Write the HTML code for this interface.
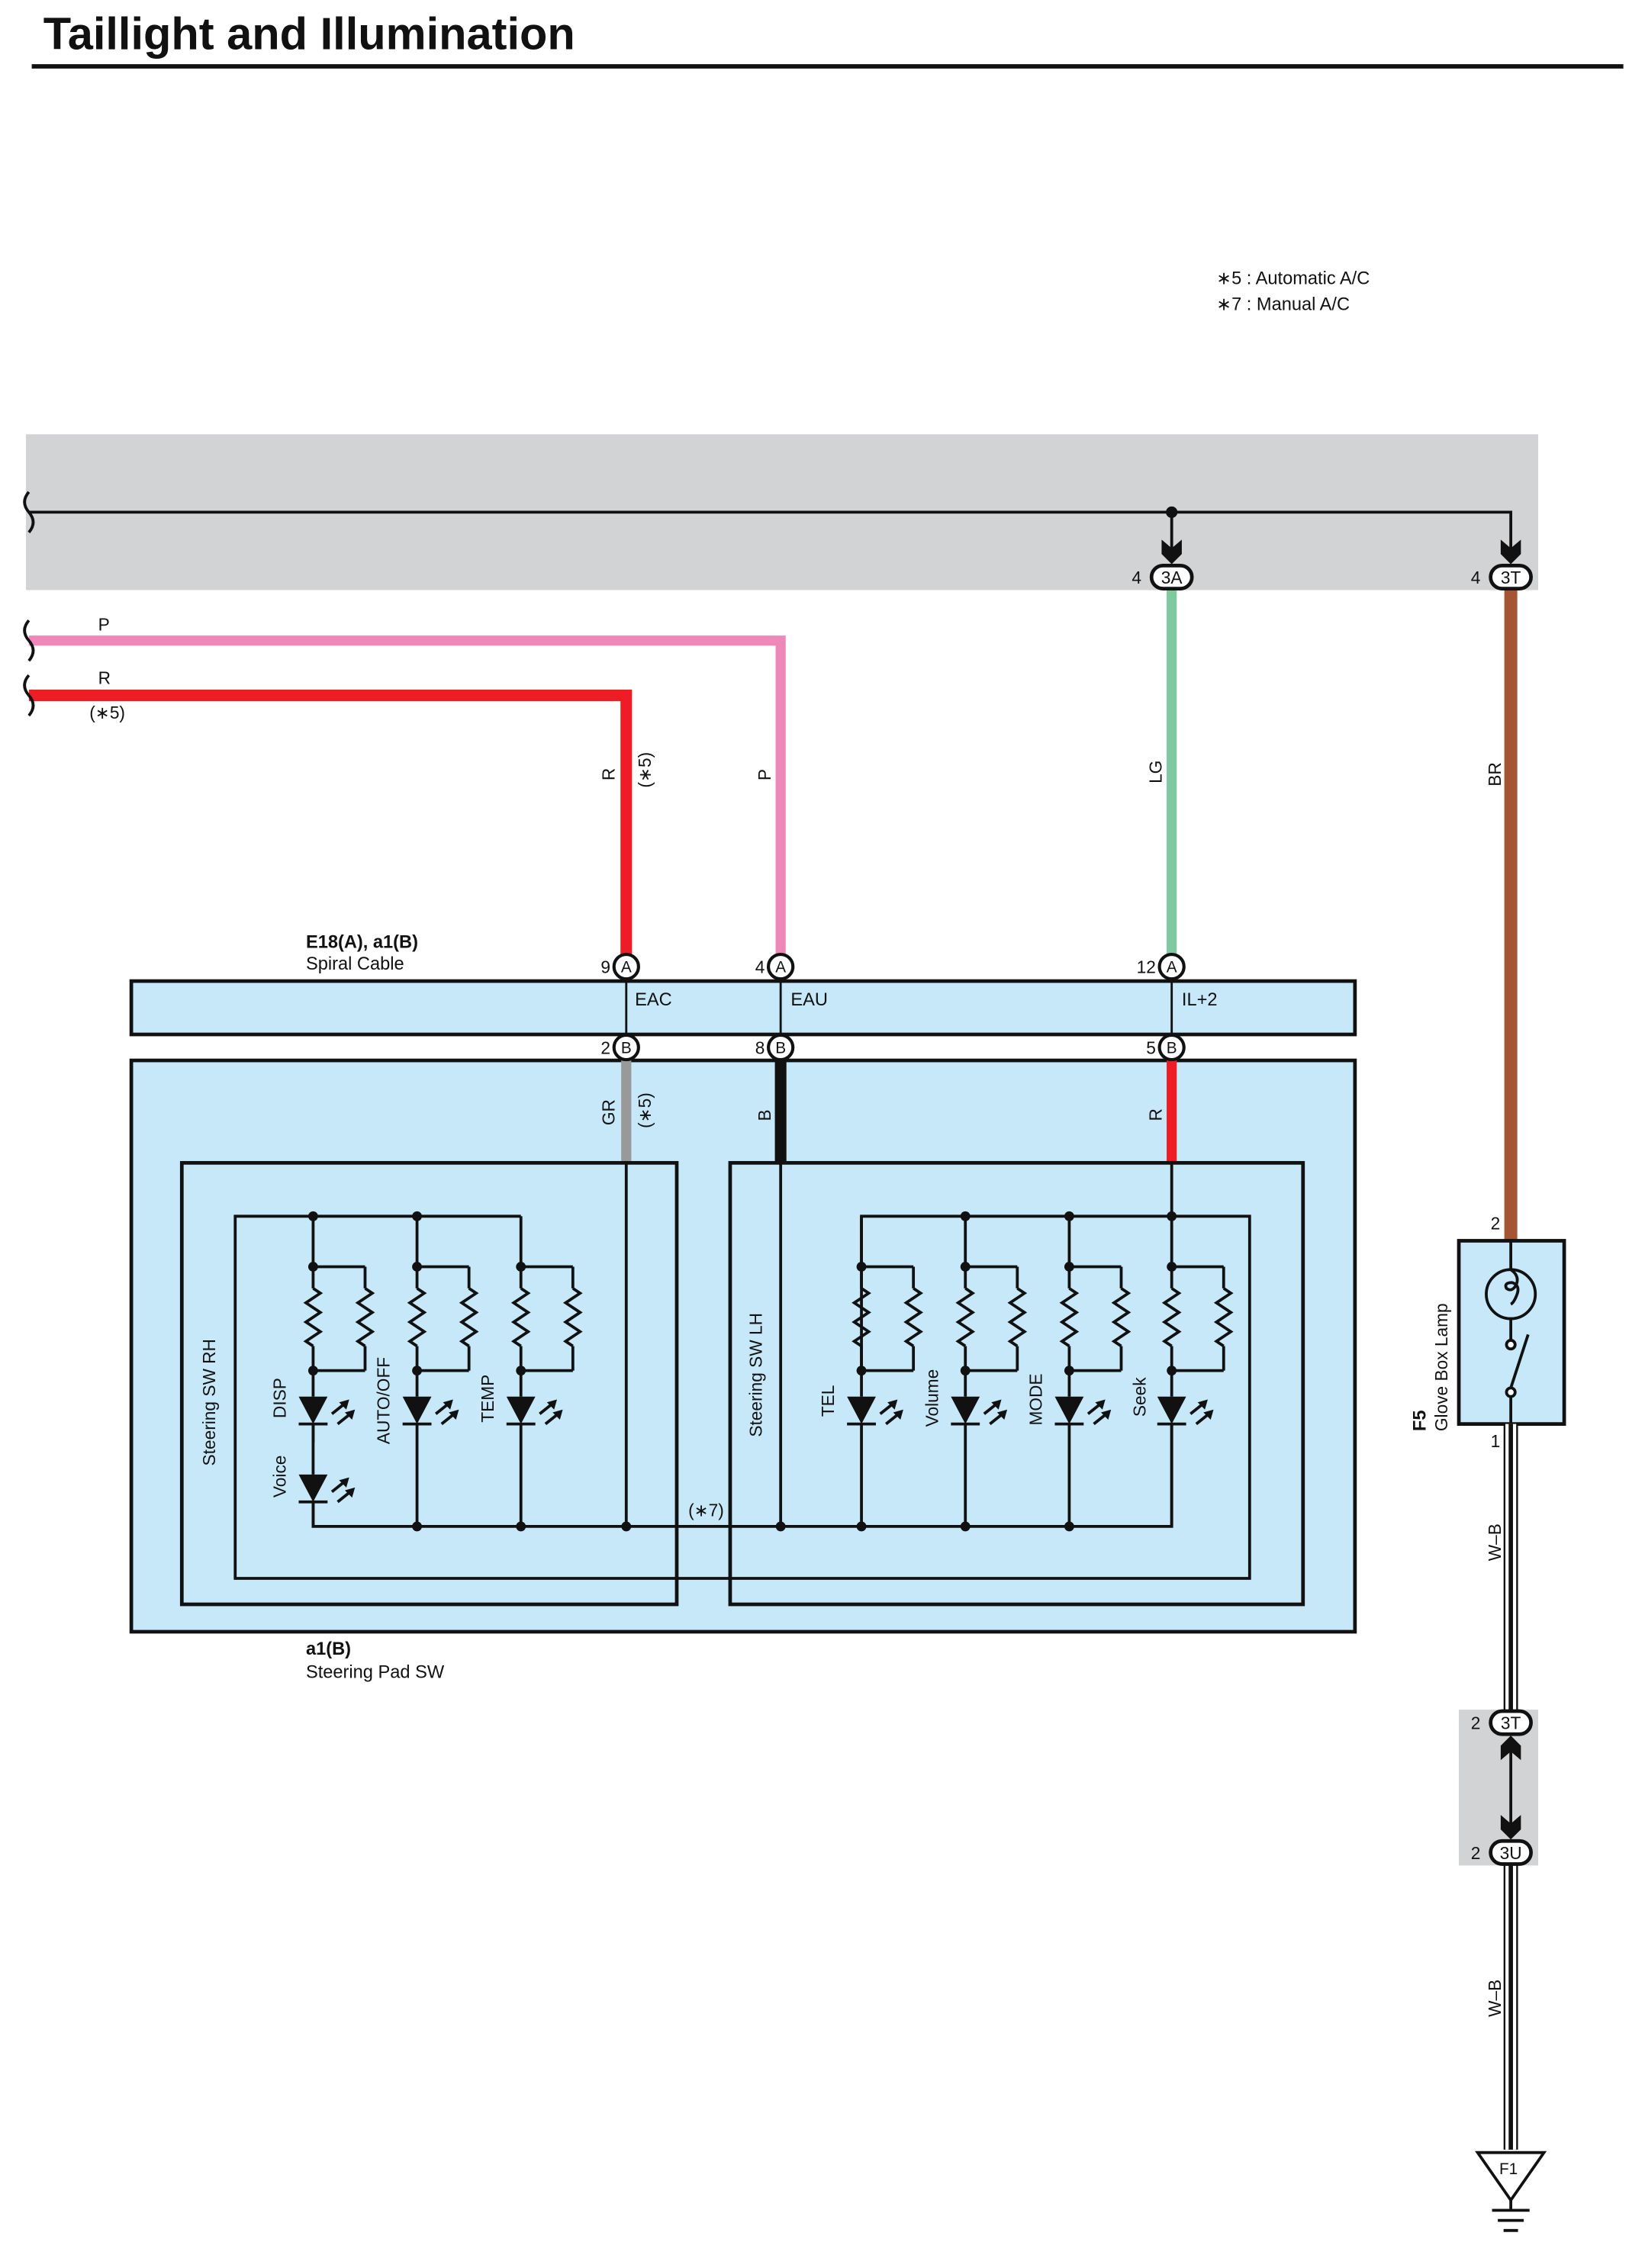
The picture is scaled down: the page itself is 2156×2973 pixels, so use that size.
<!DOCTYPE html>
<html><head><meta charset="utf-8"><style>
html,body{margin:0;padding:0;background:#fff}
svg{display:block}
text{font-family:"Liberation Sans",Arial,sans-serif;fill:#111}
</style></head><body>
<svg id="s" width="2156" height="2973" viewBox="0 0 1140 1572" preserveAspectRatio="none" xmlns="http://www.w3.org/2000/svg">
<rect width="1140" height="1572" fill="#fff"/>
<text x="30" y="34" font-size="31.5" font-weight="bold">Taillight and Illumination</text>
<line x1="22" y1="46" x2="1125" y2="46" stroke="#111" stroke-width="3"/>
<text x="843" y="197" font-size="12.5">∗5 : Automatic A/C</text>
<text x="843" y="215" font-size="12.5">∗7 : Manual A/C</text>

<rect x="18" y="301" width="1048" height="108" fill="#d2d3d5"/>
<rect x="1011" y="1185" width="55" height="108" fill="#d2d3d5"/>

<polyline points="20,444 541,444 541,662" fill="none" stroke="#ee88b8" stroke-width="7"/>
<polyline points="20,482 434,482 434,662" fill="none" stroke="#ee1c25" stroke-width="8"/>
<line x1="812" y1="408" x2="812" y2="662" stroke="#7ec99e" stroke-width="7"/>
<line x1="1047" y1="408" x2="1047" y2="862" stroke="#a65533" stroke-width="9"/>

<polyline points="20,355 1047,355 1047,380" fill="none" stroke="#111" stroke-width="2"/>
<line x1="812" y1="355" x2="812" y2="380" stroke="#111" stroke-width="2"/>
<circle cx="812" cy="355" r="4" fill="#111"/>

<text x="68" y="437" font-size="12">P</text>
<text x="68" y="474" font-size="12">R</text>
<text x="62" y="498" font-size="12">(∗5)</text>

<g font-size="12">
<text transform="translate(426,541) rotate(-90)">R</text>
<text transform="translate(451,546) rotate(-90)">(∗5)</text>
<text transform="translate(534,541) rotate(-90)">P</text>
<text transform="translate(805,543) rotate(-90)">LG</text>
<text transform="translate(1040,545) rotate(-90)">BR</text>
</g>

<text x="212" y="657" font-size="12.5" font-weight="bold">E18(A), a1(B)</text>
<text x="212" y="672" font-size="12.5">Spiral Cable</text>

<rect x="91" y="680" width="848" height="37" fill="#c6e8f9" stroke="#111" stroke-width="2.5"/>
<g stroke="#111" stroke-width="1.5"><line x1="434" y1="679" x2="434" y2="718"/><line x1="541" y1="679" x2="541" y2="718"/><line x1="812" y1="679" x2="812" y2="718"/></g>
<text x="440" y="697" font-size="12.5">EAC</text>
<text x="548" y="697" font-size="12.5">EAU</text>
<text x="819" y="697" font-size="12.5">IL+2</text>

<rect x="91" y="735" width="848" height="396" fill="#c6e8f9" stroke="#111" stroke-width="2.5"/>
<line x1="434" y1="735" x2="434" y2="806" stroke="#999" stroke-width="7"/>
<line x1="541" y1="735" x2="541" y2="806" stroke="#111" stroke-width="8"/>
<line x1="812" y1="735" x2="812" y2="806" stroke="#ee1c25" stroke-width="7"/>
<g font-size="12">
<text transform="translate(426,780) rotate(-90)">GR</text>
<text transform="translate(451,782) rotate(-90)">(∗5)</text>
<text transform="translate(534,777) rotate(-90)">B</text>
<text transform="translate(805,777) rotate(-90)">R</text>
</g>
<rect x="126" y="806" width="343" height="306" fill="none" stroke="#111" stroke-width="2.5"/>
<rect x="506" y="806" width="397" height="306" fill="none" stroke="#111" stroke-width="2.5"/>
<g id="ckt" stroke="#111" stroke-width="2" fill="none">
<polyline points="361,843 163,843 163,1094 866,1094 866,843 597,843 597,950"/>
<line x1="812" y1="806" x2="812" y2="843"/>
<line x1="434" y1="806" x2="434" y2="1058"/>
<line x1="541" y1="806" x2="541" y2="1058"/>
<polyline points="217,1040 217,1058 812,1058 812,987"/>
</g>
<g font-size="12">
<text transform="translate(149,1016) rotate(-90)">Steering SW RH</text>
<text transform="translate(198,983) rotate(-90)">DISP</text>
<text transform="translate(198,1038) rotate(-90)">Voice</text>
<text transform="translate(270,1001) rotate(-90)">AUTO/OFF</text>
<text transform="translate(342,986) rotate(-90)">TEMP</text>
<text transform="translate(528,996) rotate(-90)">Steering SW LH</text>
<text transform="translate(578,982) rotate(-90)">TEL</text>
<text transform="translate(650,989) rotate(-90)">Volume</text>
<text transform="translate(722,988) rotate(-90)">MODE</text>
<text transform="translate(794,982) rotate(-90)">Seek</text>
</g>
<text x="477" y="1051" font-size="12">(∗7)</text>
<text x="212" y="1147" font-size="12.5" font-weight="bold">a1(B)</text>
<text x="212" y="1163" font-size="12.5">Steering Pad SW</text>

<rect x="1011" y="860" width="73" height="127" fill="#c6e8f9" stroke="#111" stroke-width="2.5"/>
<g stroke="#111" stroke-width="2" fill="none">
<line x1="1047" y1="860" x2="1047" y2="880"/>
<circle cx="1047" cy="897" r="17"/>
<path d="M1047,880 q6,4 4,10 q-3,6 -7,3 q-2,-4 4,-4 q6,2 3,9 q-2,5 -4,6"/>
<line x1="1047" y1="914" x2="1047" y2="929"/>
<circle cx="1047" cy="932" r="3" fill="#fff"/>
<circle cx="1047" cy="965" r="3" fill="#fff"/>
<line x1="1047" y1="962" x2="1059" y2="925"/>
<line x1="1047" y1="968" x2="1047" y2="987"/>
</g>
<text transform="translate(988,992) rotate(-90)" font-size="12.5" font-weight="bold">F5</text>
<text transform="translate(1003,992) rotate(-90)" font-size="12">Glove Box Lamp</text>
<text x="1033" y="852" font-size="12">2</text>
<text x="1033" y="1003" font-size="12">1</text>

<g id="wb"></g>
<text transform="translate(1040,1082) rotate(-90)" font-size="12">W–B</text>
<text transform="translate(1040,1398) rotate(-90)" font-size="12">W–B</text>
<line x1="1047" y1="1205" x2="1047" y2="1272" stroke="#111" stroke-width="2"/>

<polygon points="1024,1492 1070,1492 1047,1525" fill="#fff" stroke="#111" stroke-width="2"/>
<text x="1039" y="1507" font-size="11">F1</text>
<g stroke="#111" stroke-width="2">
<line x1="1047" y1="1525" x2="1047" y2="1532"/>
<line x1="1034" y1="1532" x2="1060" y2="1532"/>
<line x1="1038" y1="1539" x2="1056" y2="1539"/>
<line x1="1042" y1="1546" x2="1052" y2="1546"/>
</g>
<g id="dyn"></g>
</svg>
<script>
var NS="http://www.w3.org/2000/svg",d=document.getElementById("dyn");
function el(t,a,p){var e=document.createElementNS(NS,t);for(var k in a)e.setAttribute(k,a[k]);(p||d).appendChild(e);return e;}
function txt(x,y,s,sz,anc){var e=el("text",{x:x,y:y,"font-size":sz||12,"text-anchor":anc||"start"});e.textContent=s;}
var wb=document.getElementById("wb");
[[987,1186],[1293,1490]].forEach(function(r){
 el("line",{x1:1047,y1:r[0],x2:1047,y2:r[1],stroke:"#111","stroke-width":10},wb);
 el("line",{x1:1047,y1:r[0],x2:1047,y2:r[1],stroke:"#fff","stroke-width":7.5},wb);
 el("line",{x1:1047,y1:r[0],x2:1047,y2:r[1],stroke:"#111","stroke-width":3},wb);
});
[355,444,482].forEach(function(y){el("path",{d:"M20,"+(y-14)+" q-6,7 0,14 q6,7 0,14",fill:"none",stroke:"#111","stroke-width":2});});
function arrDown(x,y){el("path",{d:"M"+(x-7)+","+(y-17)+" L"+x+","+(y-11)+" L"+(x+7)+","+(y-17)+" L"+(x+7)+","+(y-7)+" L"+x+","+y+" L"+(x-7)+","+(y-7)+"Z",fill:"#111"});}
function arrUp(x,y){el("path",{d:"M"+(x-7)+","+(y+17)+" L"+x+","+(y+11)+" L"+(x+7)+","+(y+17)+" L"+(x+7)+","+(y+7)+" L"+x+","+y+" L"+(x-7)+","+(y+7)+"Z",fill:"#111"});}
arrDown(812,391);arrDown(1047,391);arrUp(1047,1203);arrDown(1047,1275);
function pill(x,y,lab,pin){el("rect",{x:x-14,y:y-8,width:28,height:16,rx:8,fill:"#fff",stroke:"#111","stroke-width":2.5});txt(x,y+4.5,lab,12,"middle");txt(x-21,y+4.5,pin,12,"end");}
pill(812,400,"3A","4");pill(1047,400,"3T","4");pill(1047,1194,"3T","2");pill(1047,1284,"3U","2");
function cc(x,y,lab,pin){el("circle",{cx:x,cy:y,r:8.5,fill:"#fff",stroke:"#111","stroke-width":2.2});txt(x,y+4,lab,11,"middle");txt(x-11,y+4.5,pin,12,"end");}
cc(434,670,"A","9");cc(541,670,"A","4");cc(812,670,"A","12");
cc(434,726,"B","2");cc(541,726,"B","8");cc(812,726,"B","5");
function dot(x,y){el("circle",{cx:x,cy:y,r:3.4,fill:"#111"});}
function zig(x,y0,y1){var p="M"+x+","+y0,n=6,h=(y1-y0)/n;for(var i=0;i<n;i++){p+=" L"+(x+(i%2?-5:5))+","+(y0+h*(i+0.5));}p+=" L"+x+","+y1;el("path",{d:p,fill:"none",stroke:"#111","stroke-width":2});}
function led(x,y){el("polygon",{points:(x-10)+","+y+" "+(x+10)+","+y+" "+x+","+(y+19),fill:"#111"});
 el("line",{x1:x-10,y1:y+19,x2:x+10,y2:y+19,stroke:"#111","stroke-width":2});
 [[0,0],[4,7]].forEach(function(o){var ax=x+13+o[0],ay=y+12+o[1];el("line",{x1:ax,y1:ay,x2:ax+10,y2:ay-8,stroke:"#111","stroke-width":2});el("polygon",{points:(ax+12)+","+(ay-10)+" "+(ax+5)+","+(ay-8)+" "+(ax+10)+","+(ay-3),fill:"#111"});});}
function col(x,topDot,botDot){
 var L=function(a,b,c,e){el("line",{x1:a,y1:b,x2:c,y2:e,stroke:"#111","stroke-width":2});};
 L(x,843,x,893);zig(x,893,933);L(x,933,x,968);
 L(x,878,x+36,878);L(x+36,878,x+36,893);zig(x+36,893,933);L(x+36,933,x+36,950);L(x+36,950,x,950);
 dot(x,878);dot(x,950);if(topDot)dot(x,843);
 led(x,968);L(x,987,x,1058);if(botDot)dot(x,1058);
}
col(217,true,false);col(289,true,true);col(361,false,true);
col(597,false,true);col(669,true,true);col(741,true,true);col(812,true,false);
el("rect",{x:210,y:1000,width:14,height:40,fill:"#c6e8f9"});
el("line",{x1:217,y1:987,x2:217,y2:1022,stroke:"#111","stroke-width":2});
led(217,1022);
dot(434,1058);dot(541,1058);
</script>
</body></html>
